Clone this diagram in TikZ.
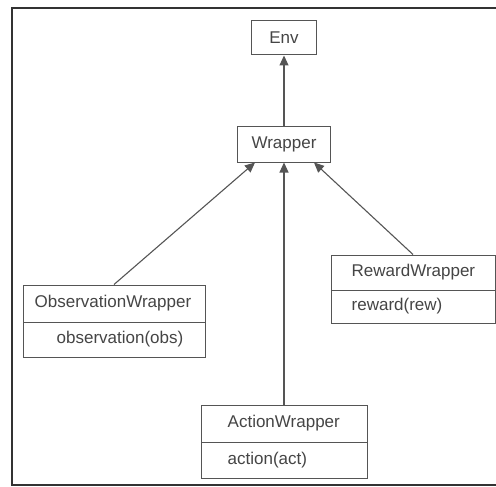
\documentclass[tikz,border=0pt]{standalone}
\usepackage{fontspec}
\setmainfont{Liberation Sans}
\usetikzlibrary{arrows.meta,calc}
\definecolor{ln}{HTML}{555555}
\definecolor{tx}{HTML}{454545}
\definecolor{fr}{HTML}{333333}
\begin{document}
\begin{tikzpicture}[x=1pt,y=-1pt,
  box/.style={draw=ln,line width=1pt,fill=white,inner sep=0pt,minimum width=#1},
  lbl/.style={text=tx,font=\fontsize{17}{20}\selectfont,inner sep=0pt},
  arr/.style={draw=ln,line width=1.1pt,-{Triangle[length=10pt,width=9pt]}}]
\useasboundingbox (0,0) rectangle (496,487);
\draw[fr,line width=1.6pt] (497,8) -- (12,8) -- (12,485) -- (497,485);
% boxes
\node[box=65, minimum height=34] (env) at (284,38) {};
\node[box=93, minimum height=35] (wrap) at (284,144.5) {};
\node[box=182, minimum height=37] (obsT) at (114,303.5) {};
\node[box=182, minimum height=35] (obsB) at (114,339.5) {};
\node[box=164, minimum height=35] (rewT) at (413,272.5) {};
\node[box=164, minimum height=33] (rewB) at (413,306.5) {};
\node[box=166, minimum height=37] (actT) at (284,423.5) {};
\node[box=166, minimum height=36] (actB) at (284,460) {};
% texts
\node[lbl] (envL) at (env.center) {Env};
\node[lbl] (wrapL) at (wrap.center) {Wrapper};
\node[lbl,anchor=west] (obsL) at ($(obsT.west)+(12,0)$) {ObservationWrapper};
\node[lbl,anchor=west] (obsM) at ($(obsB.west)+(34,0)$) {observation(obs)};
\node[lbl,anchor=west] (rewL) at ($(rewT.west)+(21,0)$) {RewardWrapper};
\node[lbl,anchor=west] (rewM) at ($(rewB.west)+(21,0)$) {reward(rew)};
\node[lbl,anchor=west] (actL) at ($(actT.west)+(27,0)$) {ActionWrapper};
\node[lbl,anchor=west] (actM) at ($(actB.west)+(27,0)$) {action(act)};
% connectors
\coordinate (wl) at ($(wrap.south west)+(18,0)$);
\coordinate (wr) at ($(wrap.south east)+(-17,0)$);
\draw[arr] (wrap.north) -- (env.south);
\draw[arr] (obsT.north) -- (wl);
\draw[arr] (actT.north) -- (wrap.south);
\draw[arr] (rewT.north) -- (wr);
\end{tikzpicture}
\end{document}
